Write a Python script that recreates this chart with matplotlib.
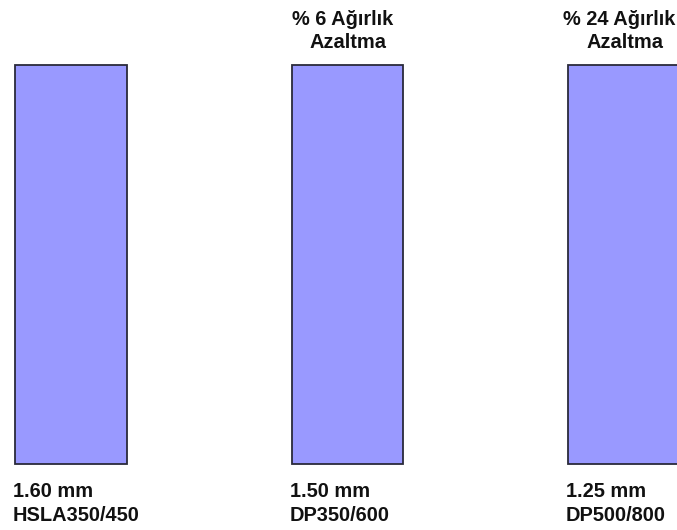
import matplotlib
matplotlib.use("Agg")
import matplotlib.pyplot as plt

# Steel grades compared at equal panel stiffness
grades = ["HSLA350/450", "DP350/600", "DP500/800"]
thickness_mm = [1.60, 1.50, 1.25]
panel_height = [1.0, 1.0, 1.0]
weight_saving_pct = [None, 6, 24]

bar_color = "#9999FF"
edge_color = "#2a2a3a"
font = ["Liberation Sans", "DejaVu Sans"]
text_kw = dict(fontsize=14.4, fontweight="bold", family=font,
               color="#111111", textcoords="offset pixels")

fig = plt.figure(figsize=(6.77, 5.30), dpi=100)
ax = fig.add_axes([0, 0, 1, 1])

x = list(range(len(grades)))
width = 0.405
ax.bar(x, panel_height, width=width, color=bar_color,
       edgecolor=edge_color, linewidth=1.3, zorder=2)

ax.set_xlim(-0.2568, 2.1917)
ax.set_ylim(-0.1654, 1.1629)
ax.axis("off")

for xi, h, t, g, s in zip(x, panel_height, thickness_mm, grades, weight_saving_pct):
    ax.annotate(f"{t:.2f} mm\n{g}", xy=(xi - width / 2, 0),
                xytext=(-2, -18), ha="left", va="top",
                linespacing=1.3, **text_kw)
    if s is not None:
        ax.annotate(f"% {s} Ağırlık", xy=(xi, h), xytext=(-5, 40),
                    ha="center", va="baseline", **text_kw)
        ax.annotate("Azaltma", xy=(xi, h), xytext=(1, 17),
                    ha="center", va="baseline", **text_kw)

fig.savefig("out.png", dpi=100)
